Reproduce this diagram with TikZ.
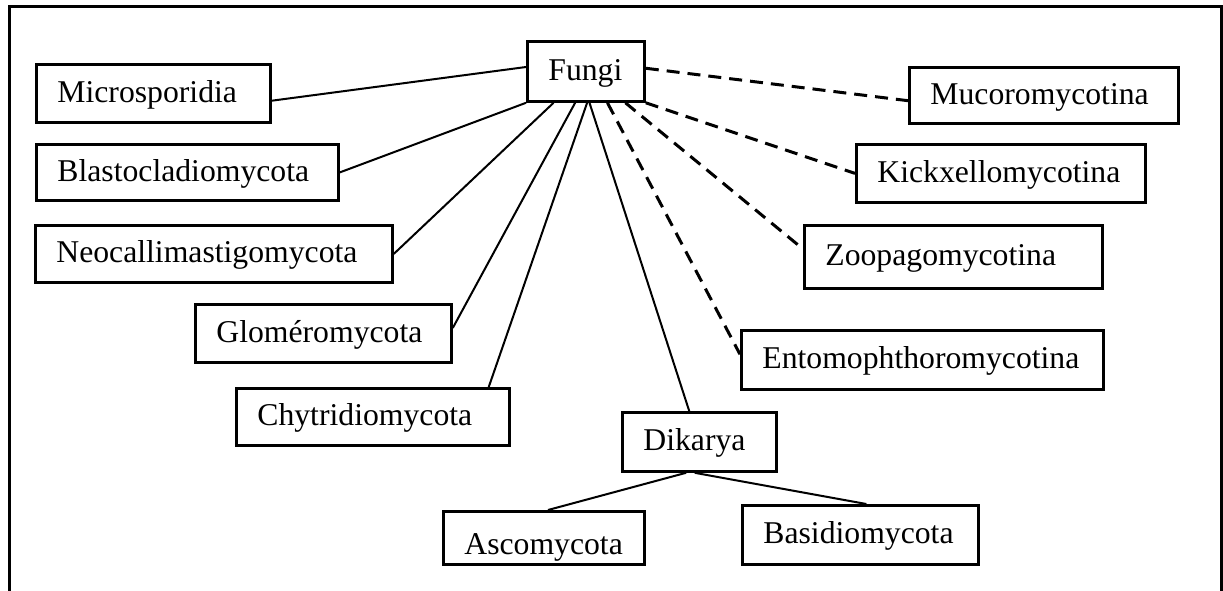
\documentclass[tikz,border=0pt]{standalone}
\usepackage{fontspec}
\setmainfont{Liberation Serif}
\usetikzlibrary{calc}

\begin{document}
\begin{tikzpicture}[x=1pt,y=-1pt,
        taxon/.style={draw, line width=2.8pt, anchor=north west, inner xsep=21pt, inner ysep=0pt, align=left,
            font={\fontsize{31.7}{38}\selectfont\hyphenpenalty=10000}, text height=25pt, text depth=7pt},
        branch/.style={line width=2pt},
        tentative/.style={line width=3pt, dash pattern=on 13pt off 8pt}]
            \newcommand{\taxon}[6]{
                \node[taxon, text width=#4pt, minimum height=#5pt] (#1) at (#2,#3) {#6}
            }
            \useasboundingbox (0,0) rectangle (1223,590);
            \draw[line width=3pt] (9,600) -- (9,6) -- (1221,6) -- (1221,600);

            \taxon{fungi}{526}{40}{75}{60}{Fungi};
            \taxon{micro}{35}{63}{192}{58}{Microsporidia};
            \taxon{blasto}{35}{143}{260}{56}{Blastocladiomycota};
            \taxon{neo}{34}{224}{315}{57}{Neocallimastigomycota};
            \taxon{glom}{194}{303}{214}{58}{Gloméromycota};
            \taxon{chyt}{235}{387}{231}{57}{Chytridiomycota};
            \taxon{dik}{621}{411}{112}{59}{Dikarya};
            \node[taxon, text width=159pt, minimum height=53pt, text height=40pt] (asco) at (442,510) {Ascomycota};
            \taxon{basid}{741}{504}{194}{59}{Basidiomycota};
            \taxon{muco}{908}{66}{227}{56}{Mucoromycotina};
            \taxon{kick}{855}{143}{247}{58}{Kickxellomycotina};
            \taxon{zoo}{803}{224}{256}{63}{Zoopagomycotina};
            \taxon{ento}{740}{329}{320}{59}{Entomophthoromycotina};

            \draw[branch] ($(micro.north east)!.62!(micro.south east)$) -- ($(fungi.north west)!.43!(fungi.south west)$);
            \draw[branch] (fungi.south west) -- (blasto.east);
            \draw[branch] ($(fungi.south west)!.23!(fungi.south east)$) -- (neo.east);
            \draw[branch] ($(fungi.south west)!.41!(fungi.south east)$) -- ($(glom.north east)!.41!(glom.south east)$);
            \draw[branch] ($(fungi.south west)!.51!(fungi.south east)$) -- ($(chyt.north west)!.92!(chyt.north east)$);
            \draw[branch] ($(fungi.south west)!.53!(fungi.south east)$) -- ($(dik.north west)!.435!(dik.north east)$);
            \draw[branch] ($(dik.south west)!.415!(dik.south east)$) -- ($(asco.north west)!.52!(asco.north east)$);
            \draw[branch] ($(dik.south west)!.47!(dik.south east)$) -- ($(basid.north west)!.525!(basid.north east)$);

            \draw[tentative] ($(fungi.north east)!.45!(fungi.south east)$) -- ($(muco.north west)!.59!(muco.south west)$);
            \draw[tentative] (fungi.south east) -- (kick.west);
            \draw[tentative] ($(fungi.south west)!.83!(fungi.south east)$) -- ($(zoo.north west)!.38!(zoo.south west)$);
            \draw[tentative] ($(fungi.south west)!.68!(fungi.south east)$) -- ($(ento.north west)!.41!(ento.south west)$);
        \end{tikzpicture}
\end{document}
